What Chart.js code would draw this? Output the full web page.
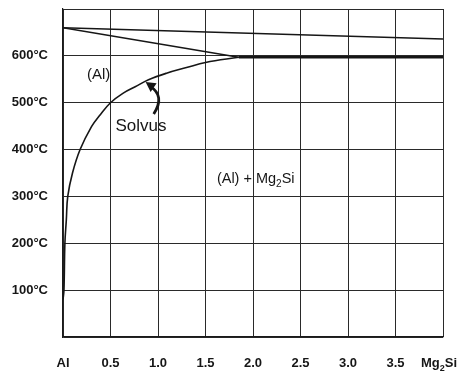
<!DOCTYPE html>
<html>
<head>
<meta charset="utf-8">
<title>Al - Mg2Si</title>
<script src="https://cdn.jsdelivr.net/npm/chart.js@4.4.0/dist/chart.umd.min.js"></script>
<style>
    html, body { margin: 0; padding: 0; background: #fff; }
    canvas { display: block; }
</style>
</head>
<body>
<canvas id="phase" width="458" height="371"></canvas>
<script>
// Al - Mg2Si pseudo-binary, aluminium-rich corner (wt% Mg2Si vs. temperature)
const liquidusPct = [0, 4];
const liquidusTemp = [660, 636];
const solidusPct = [0, 1.85];
const solidusTemp = [660, 597];
const eutecticPct = [1.85, 4];
const eutecticTemp = [597, 597];
const solvusPct = [0, 0.01, 0.02, 0.035, 0.05, 0.10, 0.18, 0.30, 0.39, 0.50, 0.63, 0.76, 0.90, 1.09, 1.30, 1.50, 1.85];
const solvusTemp = [80, 100, 200, 250, 300, 350, 400, 449, 474, 500, 520, 534, 549, 563, 575, 586, 597];

const pctTicks = [0, 0.5, 1.0, 1.5, 2.0, 2.5, 3.0, 3.5, 4.0];
const tempTicks = [0, 100, 200, 300, 400, 500, 600, 700];

const INK = '#161616';
const FONT = '"Liberation Sans", Arial, Helvetica, sans-serif';

function toPoints(xs, ys) {
    return xs.map((x, i) => ({ x: x, y: ys[i] }));
}

function line(xs, ys, width, tension) {
    return {
        data: toPoints(xs, ys),
        showLine: true,
        borderColor: INK,
        borderWidth: width,
        pointRadius: 0,
        tension: tension || 0
    };
}

// writes "Mg2Si"-style text with the digit lowered and smaller
function drawFormula(ctx, parts, x, y, size, weight, align) {
    const big = weight + ' ' + size + 'px ' + FONT;
    const small = weight + ' ' + Math.round(size * 0.7) + 'px ' + FONT;
    let total = 0;
    parts.forEach(p => {
        ctx.font = p.sub ? small : big;
        total += ctx.measureText(p.t).width;
    });
    let cx = align === 'center' ? x - total / 2 : x;
    ctx.textAlign = 'left';
    ctx.textBaseline = 'alphabetic';
    parts.forEach(p => {
        ctx.font = p.sub ? small : big;
        ctx.fillText(p.t, cx, p.sub ? y + size * 0.28 : y);
        cx += ctx.measureText(p.t).width;
    });
}

const labelsPlugin = {
    id: 'phaseLabels',
    afterDraw(chart) {
        const ctx = chart.ctx;
        const xs = chart.scales.x;
        const ys = chart.scales.y;
        ctx.save();
        ctx.fillStyle = INK;

        // phase fields
        ctx.font = '15px ' + FONT;
        ctx.textAlign = 'center';
        ctx.textBaseline = 'middle';
        ctx.fillText('(Al)', xs.getPixelForValue(0.375), ys.getPixelForValue(560));

        ctx.font = '17px ' + FONT;
        ctx.fillText('Solvus', xs.getPixelForValue(0.82), ys.getPixelForValue(450));

        drawFormula(ctx, [
            { t: '(Al) + Mg' }, { t: '2', sub: true }, { t: 'Si' }
        ], xs.getPixelForValue(1.62), ys.getPixelForValue(329), 14.5, 'normal', 'left');

        // end-member label on the composition axis
        drawFormula(ctx, [
            { t: 'Mg' }, { t: '2', sub: true }, { t: 'Si' }
        ], xs.getPixelForValue(4) - 4, chart.chartArea.bottom + 30, 13, 'bold', 'center');

        // curved arrow pointing at the solvus
        const tail = { x: xs.getPixelForValue(0.955), y: ys.getPixelForValue(476) };
        const ctrl = { x: xs.getPixelForValue(1.08), y: ys.getPixelForValue(515) };
        const tip = { x: xs.getPixelForValue(0.87), y: ys.getPixelForValue(544) };
        ctx.strokeStyle = INK;
        ctx.lineWidth = 2.8;
        ctx.beginPath();
        ctx.moveTo(tail.x, tail.y);
        ctx.quadraticCurveTo(ctrl.x, ctrl.y, tip.x + 4, tip.y + 4);
        ctx.stroke();
        const ang = Math.atan2(tip.y - ctrl.y, tip.x - ctrl.x);
        ctx.beginPath();
        ctx.moveTo(tip.x, tip.y);
        ctx.lineTo(tip.x - 11 * Math.cos(ang - 0.5), tip.y - 11 * Math.sin(ang - 0.5));
        ctx.lineTo(tip.x - 11 * Math.cos(ang + 0.5), tip.y - 11 * Math.sin(ang + 0.5));
        ctx.closePath();
        ctx.fill();

        ctx.restore();
    }
};

new Chart(document.getElementById('phase'), {
    type: 'scatter',
    data: {
        datasets: [
            line(liquidusPct, liquidusTemp, 1.6),
            line(solidusPct, solidusTemp, 1.6),
            line(eutecticPct, eutecticTemp, 2.6),
            line(solvusPct, solvusTemp, 1.6, 0.4)
        ]
    },
    options: {
        responsive: false,
        animation: false,
        layout: { padding: { top: 9, right: 15, left: 0, bottom: 0 } },
        plugins: {
            legend: { display: false },
            tooltip: { enabled: false }
        },
        scales: {
            x: {
                type: 'linear',
                min: 0,
                max: 4,
                afterBuildTicks: scale => { scale.ticks = pctTicks.map(v => ({ value: v })); },
                afterFit: scale => {
                    scale.height = 34;
                    scale.paddingLeft = 0;
                    scale.paddingRight = 0;
                },
                grid: { color: '#2a2a2a', lineWidth: 1, drawTicks: false },
                border: { color: '#1a1a1a', width: 1.2 },
                ticks: {
                    padding: 19,
                    color: INK,
                    font: { family: FONT, size: 13, weight: 'bold' },
                    callback: v => v === 0 ? 'Al' : (v === 4 ? '' : v.toFixed(1))
                }
            },
            y: {
                min: 0,
                max: 700,
                afterBuildTicks: scale => { scale.ticks = tempTicks.map(v => ({ value: v })); },
                afterFit: scale => {
                    scale.width = 63;
                    scale.paddingTop = 0;
                    scale.paddingBottom = 0;
                },
                grid: { color: '#2a2a2a', lineWidth: 1, drawTicks: false },
                border: { color: '#1a1a1a', width: 1.2 },
                ticks: {
                    padding: 15,
                    color: INK,
                    font: { family: FONT, size: 13, weight: 'bold' },
                    callback: v => (v === 0 || v === 700) ? '' : v + '°C'
                }
            }
        }
    },
    plugins: [labelsPlugin]
});
</script>
</body>
</html>
